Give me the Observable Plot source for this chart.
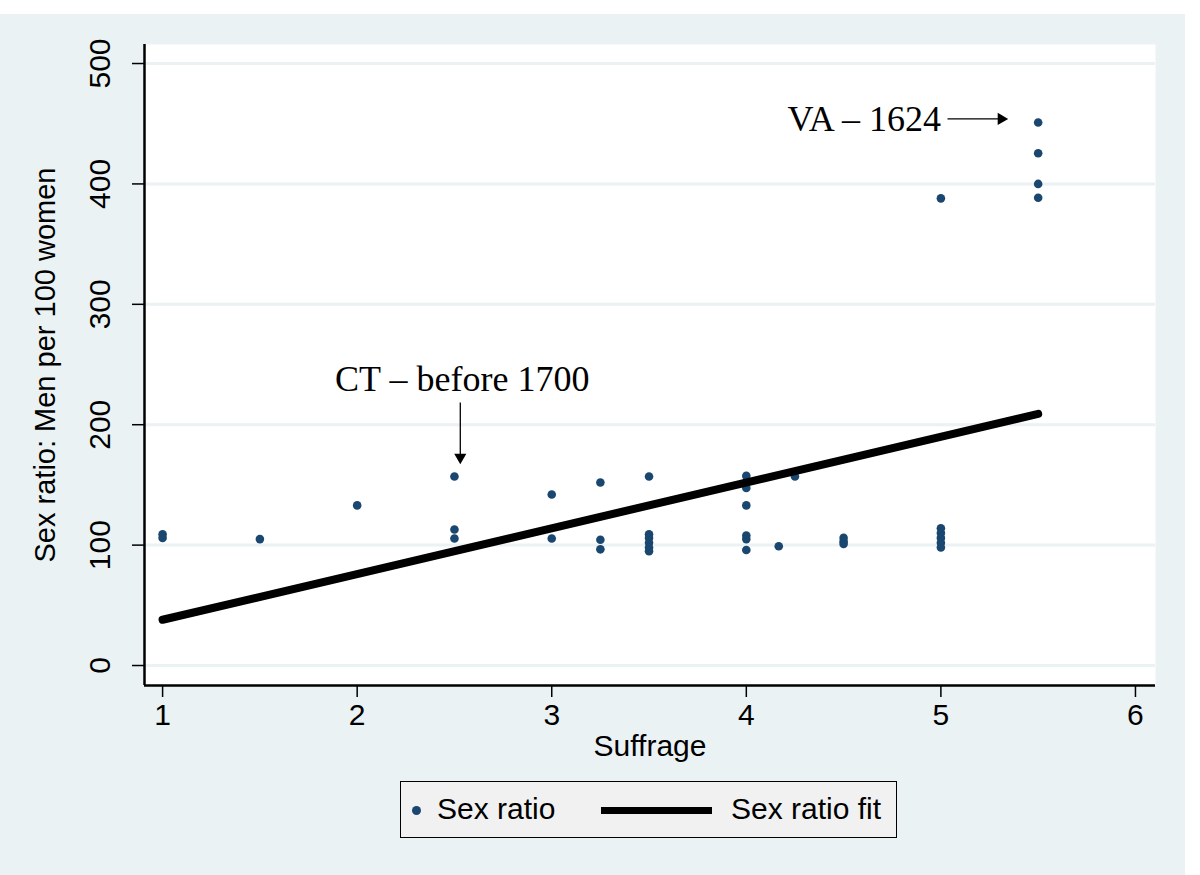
<!DOCTYPE html>
<html>
<head>
<meta charset="utf-8">
<script src="https://cdn.jsdelivr.net/npm/d3@7"></script>
<script src="https://cdn.jsdelivr.net/npm/@observablehq/plot@0.6"></script>
<style>
  html, body { margin: 0; padding: 0; background: #ffffff; }
  #wrap { position: absolute; left: 0; top: 14px; width: 1185px; height: 861px; background: #EAF2F3; }
  #legend { position: absolute; left: 400px; top: 767px; width: 495px; height: 55px; border: 1.5px solid #000; background: #F1F1F1;
            font-family: "Liberation Sans", Arial, sans-serif; font-size: 30px; color: #000; }
  #legend .dot { position: absolute; left: 11px; top: 24px; width: 9px; height: 9px; border-radius: 50%; background: #1A476F; }
  #legend .t1 { position: absolute; left: 36px; top: 10px; }
  #legend .ln { position: absolute; left: 200px; top: 25px; width: 111px; height: 7px; background: #000; }
  #legend .t2 { position: absolute; left: 330px; top: 10px; }
</style>
</head>
<body>
<div id="wrap">
  <div id="chart"></div>
  <div id="legend"><div class="dot"></div><div class="t1">Sex ratio</div><div class="ln"></div><div class="t2">Sex ratio fit</div></div>
</div>
<script>
// Data
const suffrage = [1,1,1.5,2,2.5,2.5,2.5,3,3,3.25,3.25,3.25,3.5,3.5,3.5,3.5,3.5,3.5,4,4,4,4,4,4,4,4.1667,4.25,4.5,4.5,4.5,5,5,5,5,5,5,5.5,5.5,5.5,5.5];
const sexRatio = [109,106,105,133,157,113,105.5,142,105.5,152,104.5,96.5,157,109,106,102,98,95,157.5,152.5,147.5,133,108,105,96,99,157,106,103,101,114,110,106,102,98,388,451,425.5,400,388.5];
const fitX = [1, 5.5];
const fitY = [38, 209];
const xTicks = [1,2,3,4,5,6];
const yTicks = [0,100,200,300,400,500];
const xDomain = [0.907, 6.103];
const yDomain = [-16.6, 515.8];
// annotations: label text position and arrow from/to in data units
const annLabels = ["VA \u2013 1624", "CT \u2013 before 1700"];
const annTextX = [5.0, 2.54];
const annTextY = [444, 227.6];
const annAnchor = ["end", "middle"];
const arrowX1 = [5.034, 2.53];
const arrowY1 = [454, 218.4];
const arrowX2 = [5.31, 2.53];
const arrowY2 = [454, 173];
const arrowRot = [90, 180];

const pts = suffrage.map((s, i) => ({s, r: sexRatio[i]}));
const fit = fitX.map((x, i) => ({x, y: fitY[i]}));
const anns = annLabels.map((t, i) => ({t, x: annTextX[i], y: annTextY[i], a: annAnchor[i]}));
const arrows = arrowX1.map((x1, i) => ({x1, y1: arrowY1[i], x2: arrowX2[i], y2: arrowY2[i], rot: arrowRot[i]}));

const sans = "Liberation Sans, Arial, sans-serif";
const serif = "Liberation Serif, Times New Roman, serif";

const chart = Plot.plot({
  width: 1185,
  height: 760,
  marginLeft: 144,
  marginRight: 30,
  marginTop: 30,
  marginBottom: 89,
  style: {background: "transparent", fontFamily: sans, color: "#000"},
  x: {domain: xDomain},
  y: {domain: yDomain},
  marks: [
    Plot.frame({fill: "white", stroke: null}),
    Plot.ruleY(yTicks, {stroke: "#EAF2F3", strokeWidth: 3}),
    Plot.ruleX([xDomain[0]], {stroke: "#000", strokeWidth: 2.5}),
    Plot.ruleY([yDomain[0]], {stroke: "#000", strokeWidth: 2.5}),
    Plot.axisX({ticks: xTicks, tickSize: 12, tickPadding: 6, tickFormat: d => String(d), fontSize: 30, label: null, strokeWidth: 1.5}),
    Plot.axisY({ticks: yTicks, tickSize: 12, tickFormat: () => "", label: null, strokeWidth: 1.5}),
    Plot.text(yTicks, {y: d => d, text: d => String(d), frameAnchor: "left", dx: -44, rotate: -90, fontSize: 30, textAnchor: "middle", lineAnchor: "middle", fill: "#000"}),
    Plot.text(["Suffrage"], {frameAnchor: "bottom", dy: 61, fontSize: 30, textAnchor: "middle", lineAnchor: "middle", fill: "#000"}),
    Plot.text(["Sex ratio: Men per 100 women"], {frameAnchor: "left", dx: -99, rotate: -90, fontSize: 29, textAnchor: "middle", lineAnchor: "middle", fill: "#000"}),
    Plot.dot(pts, {x: "s", y: "r", r: 4.3, fill: "#1A476F", stroke: null}),
    Plot.line(fit, {x: "x", y: "y", stroke: "#000", strokeWidth: 8}),
    Plot.text(anns, {filter: d => d.a === "end", x: "x", y: "y", text: "t", textAnchor: "end", fontSize: 36, lineAnchor: "bottom", fontFamily: serif, fill: "#000"}),
    Plot.text(anns, {filter: d => d.a === "middle", x: "x", y: "y", text: "t", textAnchor: "middle", fontSize: 36, lineAnchor: "bottom", fontFamily: serif, fill: "#000"}),
    Plot.link(arrows, {x1: "x1", y1: "y1", x2: "x2", y2: "y2", stroke: "#000", strokeWidth: 1.3}),
    Plot.dot(arrows, {x: "x2", y: "y2", symbol: "triangle", rotate: "rot", r: 4.5, fill: "#000", stroke: null})
  ]
});
document.getElementById("chart").appendChild(chart);
</script>
</body>
</html>
